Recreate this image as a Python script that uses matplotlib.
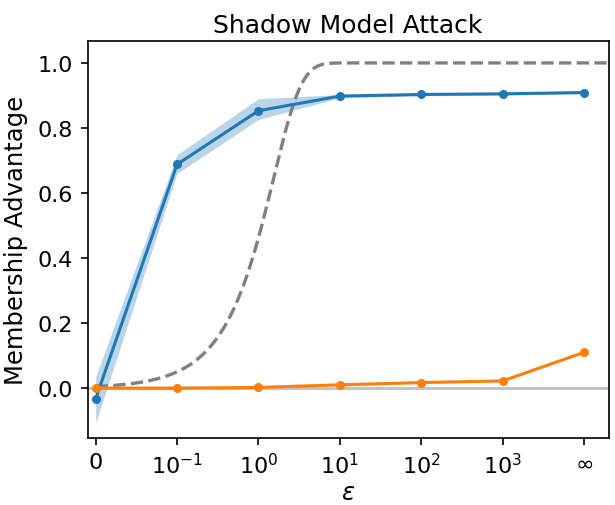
import numpy as np
import matplotlib
matplotlib.use("Agg")
import matplotlib.pyplot as plt

# privacy budgets (categorical positions on the x axis)
eps_labels = ["0", "$10^{-1}$", "$10^{0}$", "$10^{1}$", "$10^{2}$", "$10^{3}$", r"$\infty$"]

# membership advantage of the shadow model attack
adv_mean = [-0.033, 0.688, 0.853, 0.898, 0.903, 0.905, 0.909]
adv_low = [-0.107, 0.660, 0.826, 0.893, 0.899, 0.901, 0.905]
adv_high = [0.035, 0.718, 0.890, 0.903, 0.907, 0.909, 0.913]

# second series (orange)
adv2_mean = [0.000, 0.000, 0.002, 0.010, 0.017, 0.022, 0.110]
adv2_low = [-0.002, -0.002, 0.000, 0.007, 0.014, 0.019, 0.106]
adv2_high = [0.002, 0.002, 0.004, 0.013, 0.020, 0.025, 0.114]

x = np.arange(len(eps_labels))

W, H = 615, 506
fig = plt.figure(figsize=(W / 100, H / 100), dpi=100)
left, right, top, bottom = 87.5, 608.5, 41.5, 438.5
ax = fig.add_axes([left / W, 1 - bottom / H, (right - left) / W, (bottom - top) / H])

# theoretical DP bound on membership advantage, tanh(eps/2), on the log-position scale
xb = np.linspace(0, 6.4, 400)
eps_b = 10.0 ** (xb - 2)
bound = np.tanh(eps_b / 2)
ax.plot(xb, bound, "--", color="gray", lw=2.4)

ax.axhline(0, color="gray", alpha=0.5, lw=2)

ax.fill_between(x, adv_low, adv_high, color="C0", alpha=0.3, lw=0)
ax.plot(x, adv_mean, "-o", color="C0", lw=2.2, ms=5.5)
ax.fill_between(x, adv2_low, adv2_high, color="C1", alpha=0.3, lw=0)
ax.plot(x, adv2_mean, "-o", color="C1", lw=2.2, ms=5.5)

ax.set_xticks(x)
ax.set_xticklabels(eps_labels)
ax.set_xlim(-0.1, 6.3)
ax.set_ylim(-0.152, 1.069)
ax.set_yticks([0.0, 0.2, 0.4, 0.6, 0.8, 1.0])
ax.tick_params(labelsize=16, width=1.2, length=5, pad=5.5)
for s in ax.spines.values():
    s.set_linewidth(1.2)
ax.set_xlabel(r"$\epsilon$", fontsize=17.5, labelpad=2)
ax.set_ylabel("Membership Advantage", fontsize=17.5, labelpad=7)
ax.set_title("Shadow Model Attack", fontsize=18)

fig.savefig("out.png", dpi=100)
